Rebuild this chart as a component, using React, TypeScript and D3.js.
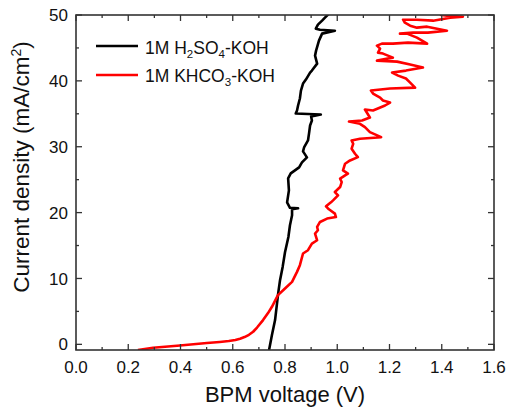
import { useEffect, useRef } from 'react';
import * as d3 from 'd3';

// BPM voltage (V) / current density (mA/cm2)
const h2so4V = [
  0.739, 0.750, 0.762, 0.774, 0.781, 0.791, 0.800, 0.813, 0.819, 0.827, 0.827, 0.850, 0.819,
  0.808, 0.815, 0.812, 0.822, 0.854, 0.865, 0.884, 0.869, 0.873, 0.888, 0.892, 0.896, 0.903,
  0.900, 0.937, 0.888, 0.841, 0.846, 0.850, 0.857, 0.861, 0.869, 0.880, 0.896, 0.903, 0.923,
  0.915, 0.919, 0.930, 0.942, 0.991, 0.934, 0.918, 0.926, 0.942, 0.953, 0.968,
];
const h2so4J = [
  -0.86, 1.41, 3.68, 7.77, 9.74, 11.76, 13.98, 16.3, 18.08, 19.59, 20.5, 20.65, 20.73,
  21.56, 23.38, 25.2, 25.95, 26.86, 27.62, 28.38, 29.29, 29.89, 30.95, 32.02, 33.23, 33.98,
  34.59, 34.89, 34.97, 35.05, 35.5, 36.26, 37.32, 38.53, 39.59, 40.2, 41.26, 41.56, 42.62,
  43.83, 44.59, 46.11, 47.17, 47.62, 47.77, 47.92, 48.53, 49.14, 49.59, 50.2,
];

const khco3V = [
  0.237, 0.295, 0.398, 0.501, 0.550, 0.585, 0.610, 0.628, 0.645, 0.662, 0.678, 0.693, 0.716,
  0.735, 0.750, 0.773,
  0.800, 0.827, 0.846, 0.857, 0.869, 0.888, 0.903, 0.923, 0.915, 0.926, 0.923, 0.934, 0.961,
  0.995, 0.991, 0.968, 0.957, 0.976, 0.984, 1.003, 0.991, 1.011, 1.017, 1.011, 1.030, 1.041,
  1.022, 1.030, 1.049, 1.079, 1.068, 1.055, 1.061, 1.055, 1.087, 1.168, 1.125, 1.106, 1.087,
  1.045, 1.095, 1.125, 1.106, 1.137, 1.183, 1.202, 1.175, 1.164, 1.137, 1.129, 1.202, 1.298,
  1.279, 1.263, 1.233, 1.210, 1.263, 1.328, 1.279, 1.229, 1.152, 1.213, 1.175, 1.156, 1.164,
  1.152, 1.171, 1.213, 1.271, 1.344, 1.305, 1.267, 1.240, 1.290, 1.347, 1.420, 1.344, 1.305,
  1.279, 1.259, 1.252, 1.305, 1.367, 1.432, 1.481, 1.420, 1.393,
];
const khco3J = [
  -0.86, -0.53, -0.18, 0.2, 0.36, 0.5, 0.66, 0.85, 1.1, 1.45, 1.91, 2.55, 3.68,
  4.74, 5.7, 7.47,
  8.48, 9.48, 11.0, 12.02, 13.79, 14.29, 15.3, 15.8, 16.82, 17.32, 17.82, 18.58, 19.09,
  19.33, 19.85, 20.5, 20.95, 21.56, 21.86, 22.62, 23.12, 23.88, 24.64, 25.15, 25.65, 25.91,
  26.41, 27.42, 27.92, 28.42, 28.94, 29.7, 30.45, 30.95, 31.21, 31.45, 32.21, 32.97, 33.48,
  33.83, 33.98, 34.44, 35.65, 35.5, 36.26, 36.71, 37.02, 37.47, 38.08, 38.53, 38.83, 38.98,
  39.74, 40.35, 40.8, 41.26, 41.56, 42.02, 42.47, 42.92, 43.08, 43.53, 44.14, 44.29, 44.89,
  45.35, 45.65, 45.65, 45.8, 45.65, 46.56, 47.17, 47.17, 47.32, 47.32, 47.62, 48.23, 48.08,
  48.38, 48.83, 49.29, 49.29, 49.14, 49.59, 49.74, 49.89, 50.05,
];

const xTicks = [0, 0.2, 0.4, 0.6, 0.8, 1.0, 1.2, 1.4, 1.6];
const yTicks = [0, 10, 20, 30, 40, 50];

const font = 'Arial, "Liberation Sans", sans-serif';

const App = () => {
  const svgRef = useRef<SVGSVGElement>(null);

  useEffect(() => {
    const svg = d3.select(svgRef.current);
    svg.selectAll('*').remove();

    const left = 76, right = 494, top = 15, bottom = 350;
    const x = d3.scaleLinear().domain([0, 1.6]).range([left, right]);
    const y = d3.scaleLinear().domain([-0.86, 50]).range([bottom, top]);

    svg.append('defs').append('clipPath').attr('id', 'plot')
      .append('rect').attr('x', left).attr('y', top)
      .attr('width', right - left).attr('height', bottom - top);

    const line = d3.line<[number, number]>().x((d) => x(d[0])).y((d) => y(d[1]));
    const series = [
      { v: h2so4V, j: h2so4J, color: '#000' },
      { v: khco3V, j: khco3J, color: '#ff0000' },
    ];
    const g = svg.append('g').attr('clip-path', 'url(#plot)');
    series.forEach((s) => {
      const pts = s.v.map((v, i) => [v, s.j[i]] as [number, number]);
      g.append('path').attr('d', line(pts)).attr('fill', 'none')
        .attr('stroke', s.color).attr('stroke-width', 2.6)
        .attr('stroke-linejoin', 'round');
    });

    // ticks on all four sides, pointing inward
    const axisColor = '#333';
    const tg = svg.append('g').attr('stroke', axisColor).attr('stroke-width', 1.3);
    const xMinor = d3.range(0, 1.61, 0.1);
    const yMinor = d3.range(0, 50.1, 5);
    xMinor.forEach((v, i) => {
      const len = i % 2 === 0 ? 6 : 3;
      tg.append('line').attr('x1', x(v)).attr('x2', x(v)).attr('y1', bottom).attr('y2', bottom - len);
      tg.append('line').attr('x1', x(v)).attr('x2', x(v)).attr('y1', top).attr('y2', top + len);
    });
    yMinor.forEach((v, i) => {
      const len = i % 2 === 0 ? 6 : 3;
      tg.append('line').attr('x1', left).attr('x2', left + len).attr('y1', y(v)).attr('y2', y(v));
      tg.append('line').attr('x1', right).attr('x2', right - len).attr('y1', y(v)).attr('y2', y(v));
    });

    svg.append('rect').attr('x', left).attr('y', top)
      .attr('width', right - left).attr('height', bottom - top)
      .attr('fill', 'none').attr('stroke', axisColor).attr('stroke-width', 1.6);

    const lab = svg.append('g').attr('font-family', font).attr('font-size', 17).attr('fill', '#111');
    xTicks.forEach((v) => {
      lab.append('text').attr('x', x(v)).attr('y', 372.5).attr('text-anchor', 'middle')
        .text(d3.format('.1f')(v));
    });
    yTicks.forEach((v) => {
      lab.append('text').attr('x', 68).attr('y', y(v)).attr('dy', '0.36em')
        .attr('text-anchor', 'end').text(v);
    });

    svg.append('text').attr('x', (left + right) / 2).attr('y', 402)
      .attr('text-anchor', 'middle').attr('font-family', font).attr('font-size', 22)
      .attr('fill', '#111').text('BPM voltage (V)');

    const yt = svg.append('text').attr('transform', 'translate(29,167) rotate(-90)')
      .attr('text-anchor', 'middle').attr('font-family', font).attr('font-size', 22.5)
      .attr('fill', '#111');
    yt.append('tspan').text('Current density (mA/cm');
    yt.append('tspan').attr('font-size', 14).attr('dy', -8).text('2');
    yt.append('tspan').attr('dy', 8).text(')');

    // legend
    const leg = svg.append('g').attr('font-family', font).attr('font-size', 17.5).attr('fill', '#111');
    const legendRows = [
      { color: '#000', y: 46, base: 54, parts: [['1M H', 0], ['2', 1], ['SO', 0], ['4', 1], ['-KOH', 0]] },
      { color: '#ff0000', y: 75, base: 82, parts: [['1M KHCO', 0], ['3', 1], ['-KOH', 0]] },
    ];
    legendRows.forEach((r) => {
      leg.append('line').attr('x1', 96).attr('x2', 138).attr('y1', r.y).attr('y2', r.y)
        .attr('stroke', r.color).attr('stroke-width', 2.6);
      const t = leg.append('text').attr('x', 145).attr('y', r.base);
      let sub = false;
      r.parts.forEach(([s, isSub]) => {
        const ts = t.append('tspan').text(s as string);
        if (isSub && !sub) { ts.attr('font-size', 11.5).attr('dy', 4); sub = true; }
        else if (!isSub && sub) { ts.attr('dy', -4); sub = false; }
      });
    });
  }, []);

  return (
    <div style={{ position: 'absolute', left: 0, top: 0 }}>
      <svg ref={svgRef} width={508} height={412} style={{ display: 'block', background: '#fff' }} />
    </div>
  );
};

export default App;
